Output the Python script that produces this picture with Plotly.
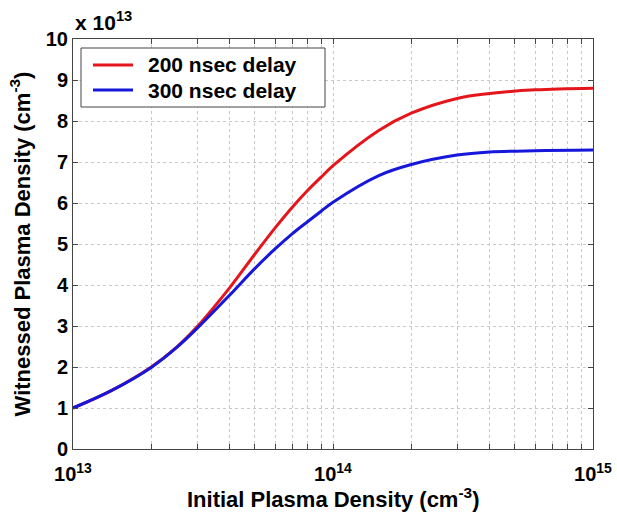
import plotly.graph_objects as go

# Initial plasma density (cm^-3)
x_vals = [1e13, 1.41e13, 2e13, 2.5e13, 3e13, 4e13, 5e13, 6e13, 7e13, 8e13, 9e13, 1e14,
          1.5e14, 2e14, 3e14, 4e14, 6e14, 1e15]
# Witnessed plasma density, in units of 1e13 cm^-3
y_200 = [1.0, 1.43, 2.0, 2.48, 2.98, 3.93, 4.75, 5.40, 5.91, 6.31, 6.63, 6.91,
         7.77, 8.19, 8.55, 8.67, 8.76, 8.80]
y_300 = [1.0, 1.43, 1.99, 2.47, 2.94, 3.75, 4.40, 4.885, 5.26, 5.55, 5.80, 6.02,
         6.67, 6.94, 7.17, 7.245, 7.275, 7.29]

series_names = ["200 nsec delay", "300 nsec delay"]
series_colors = ["#e4161c", "#1717dc"]
y_ticks = list(range(0, 11))
x_decades = [13, 14, 15]

FONT = "Liberation Sans, Arial, sans-serif"

# plot-area geometry in pixels (for legend/annotation placement)
W, H = 617, 513
ML, MR, MT, MB = 73, 24, 39, 64
PW, PH = W - ML - MR, H - MT - MB


def px_x(p):
    return (p - ML) / PW


def px_y(p):
    return (H - MB - p) / PH


fig = go.Figure()
for ys, name, col in zip([y_200, y_300], series_names, series_colors):
    fig.add_trace(go.Scatter(x=x_vals, y=ys, mode="lines", name=name, showlegend=False,
                             line=dict(color=col, width=3, shape="spline", smoothing=1.0)))

xtickvals = []
xticktext = []
for d in x_decades:
    for m in range(1, 10):
        if d == x_decades[-1] and m > 1:
            break
        xtickvals.append(m * 10 ** d)
        xticktext.append(f"10<sup>{d}</sup>" if m == 1 else "")

fig.update_layout(
    width=W, height=H,
    margin=dict(l=ML, r=MR, t=MT, b=MB),
    paper_bgcolor="white", plot_bgcolor="white",
    font=dict(family=FONT, size=20, color="black"),
    showlegend=False,
    xaxis=dict(type="log", range=[13, 15], tickvals=xtickvals, ticktext=xticktext,
               showgrid=True, gridcolor="#c8c8c8", griddash="dot", gridwidth=1,
               showline=True, linecolor="#444", linewidth=1, mirror="ticks",
               ticks="inside", ticklen=5, tickcolor="#444",
               tickfont=dict(family=FONT, size=20, weight="bold"),
               ticklabelstandoff=7, automargin=False, zeroline=False),
    yaxis=dict(range=[0, 10], tickvals=y_ticks, ticktext=[str(v) for v in y_ticks],
               showgrid=True, gridcolor="#c8c8c8", griddash="dot", gridwidth=1,
               showline=True, linecolor="#444", linewidth=1, mirror="ticks",
               ticks="inside", ticklen=5, tickcolor="#444",
               tickfont=dict(family=FONT, size=20, weight="bold"),
               automargin=False,
               title=dict(text="Witnessed Plasma Density (cm<sup>-3</sup>)",
                          font=dict(family=FONT, size=22, weight="bold"), standoff=9),
               zeroline=False),
)

# x-axis title
fig.add_annotation(xref="paper", yref="paper", x=0.5, y=0, xanchor="center", yanchor="top",
                   text="Initial Plasma Density (cm<sup>-3</sup>)", showarrow=False,
                   yshift=-33, font=dict(family=FONT, size=22, weight="bold", color="black"))

# exponent label
fig.add_annotation(xref="paper", yref="paper", x=0, y=1, xanchor="left", yanchor="bottom",
                   text="x 10<sup>13</sup>", showarrow=False, xshift=0, yshift=3,
                   font=dict(family=FONT, size=21, weight="bold", color="black"))

# legend box
fig.add_shape(type="rect", xref="paper", yref="paper",
              x0=px_x(81), x1=px_x(325), y0=px_y(107), y1=px_y(48),
              line=dict(color="#444", width=1), fillcolor="white", layer="above")
for i, (name, col) in enumerate(zip(series_names, series_colors)):
    yy = px_y(65 + 25 * i)
    fig.add_shape(type="line", xref="paper", yref="paper",
                  x0=px_x(93), x1=px_x(133), y0=yy, y1=yy,
                  line=dict(color=col, width=3), layer="above")
    fig.add_annotation(xref="paper", yref="paper", x=px_x(146), y=yy,
                       xanchor="left", yanchor="middle", text=name, showarrow=False,
                       font=dict(family=FONT, size=21, weight="bold", color="black"))

fig.write_html("out.html")
